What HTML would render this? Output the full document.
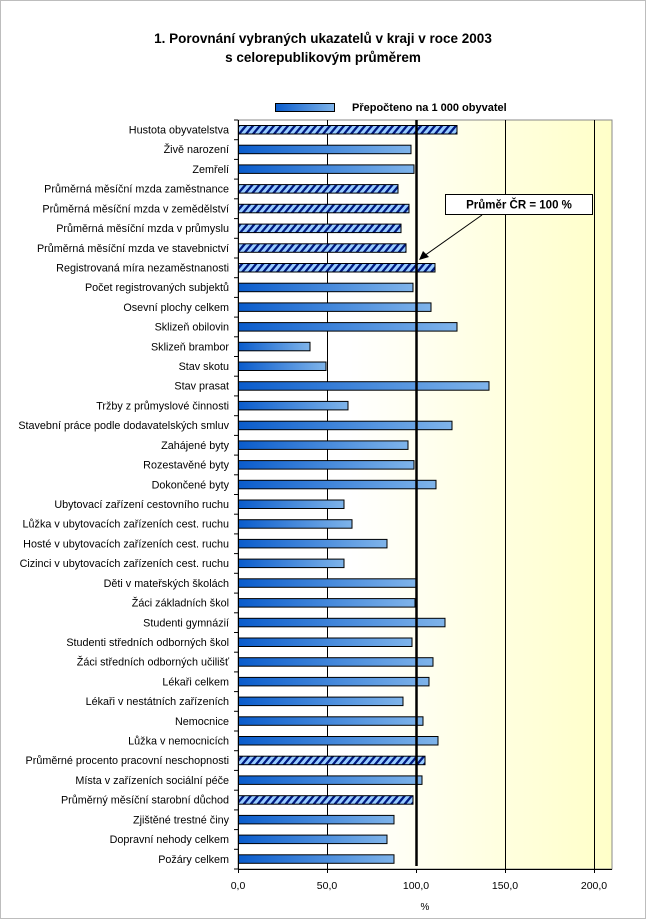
<!DOCTYPE html>
<html><head><meta charset="utf-8"><style>
html,body{margin:0;padding:0;background:#fff}
svg{display:block;font-family:"Liberation Sans",Arial,sans-serif}
</style></head><body>
<svg width="646" height="919" viewBox="0 0 646 919" xmlns="http://www.w3.org/2000/svg">
<defs>
<linearGradient id="bg" x1="0" x2="1" y1="0" y2="0">
<stop offset="0" stop-color="#ffffff"/><stop offset="0.3" stop-color="#ffffff"/><stop offset="1" stop-color="#ffffc8"/>
</linearGradient>
<linearGradient id="bar" x1="0" x2="1" y1="0" y2="0">
<stop offset="0" stop-color="#0a5ccc"/><stop offset="1" stop-color="#7fb4ea"/>
</linearGradient>
<pattern id="hatch" width="7" height="7" patternUnits="userSpaceOnUse" patternTransform="skewX(-40)">
<rect width="7" height="7" fill="#99ccff"/><rect x="0" width="3" height="7" fill="#001a80"/>
</pattern>
</defs>
<rect x="0.5" y="0.5" width="645" height="918" fill="#fff" stroke="#bdbdbd"/>
<text x="323" y="43" text-anchor="middle" font-size="13.5" font-weight="bold">1. Porovnání vybraných ukazatelů v kraji  v roce 2003</text>
<text x="323" y="62" text-anchor="middle" font-size="13.5" font-weight="bold">s celorepublikovým průměrem</text>
<rect x="275.5" y="103.5" width="59" height="8" fill="url(#bar)" stroke="#000"/>
<text x="352" y="111" font-size="11" font-weight="bold">Přepočteno na 1 000 obyvatel</text>
<rect x="238" y="120" width="374" height="749" fill="url(#bg)" stroke="#888"/>
<g stroke="#000" stroke-width="1">
<line x1="327.5" y1="120" x2="327.5" y2="869"/>
<line x1="505.5" y1="120" x2="505.5" y2="869"/>
<line x1="594.5" y1="120" x2="594.5" y2="869"/>
</g>
<g id="bars" stroke="#000" stroke-width="1"></g>
<line x1="416.5" y1="120" x2="416.5" y2="866" stroke="#000" stroke-width="2.5"/>
<line x1="238.5" y1="120" x2="238.5" y2="869" stroke="#000"/>
<line x1="238" y1="869.5" x2="612" y2="869.5" stroke="#000"/>
<g id="ticks" stroke="#000"></g>
<g id="labels" font-size="10.8" text-anchor="end"></g>
<g font-size="10.5" text-anchor="middle">
<text x="238" y="889">0,0</text><text x="327" y="889">50,0</text><text x="416" y="889">100,0</text><text x="505" y="889">150,0</text><text x="594" y="889">200,0</text>
<text x="425" y="910" font-size="10">%</text>
</g>
<rect x="445.5" y="194.5" width="147" height="20" fill="#fff" stroke="#000"/>
<text x="519" y="208.5" text-anchor="middle" font-size="11.5" font-weight="bold">Průměr  ČR = 100 %</text>
<line x1="482" y1="215" x2="424" y2="256" stroke="#000"/>
<polygon points="419,260 423,251 429,257" fill="#000"/>
</svg>
<script>
var d=[["Hustota obyvatelstva",457,1],["Živě narození",411],["Zemřelí",414],["Průměrná měsíční mzda zaměstnance",398,1],["Průměrná měsíční mzda v zemědělství",409,1],["Průměrná měsíční mzda v průmyslu",401,1],["Průměrná měsíční mzda ve stavebnictví",406,1],["Registrovaná míra nezaměstnanosti",435,1],["Počet registrovaných subjektů",413],["Osevní plochy celkem",431],["Sklizeň obilovin",457],["Sklizeň brambor",310],["Stav skotu",326],["Stav prasat",489],["Tržby z průmyslové činnosti",348],["Stavební práce podle dodavatelských smluv",452],["Zahájené byty",408],["Rozestavěné byty",414],["Dokončené byty",436],["Ubytovací zařízení cestovního ruchu",344],["Lůžka v ubytovacích zařízeních cest. ruchu",352],["Hosté v ubytovacích zařízeních cest. ruchu",387],["Cizinci v ubytovacích zařízeních cest. ruchu",344],["Děti v mateřských školách",416],["Žáci základních škol",415],["Studenti gymnázií",445],["Studenti středních odborných škol",412],["Žáci středních odborných učilišť",433],["Lékaři celkem",429],["Lékaři v nestátních zařízeních",403],["Nemocnice",423],["Lůžka  v nemocnicích",438],["Průměrné procento pracovní neschopnosti",425,1],["Místa v zařízeních sociální péče",422],["Průměrný měsíční starobní důchod",413,1],["Zjištěné trestné činy",394],["Dopravní nehody celkem",387],["Požáry celkem",394]];
var ns="http://www.w3.org/2000/svg",B=document.getElementById("bars"),L=document.getElementById("labels"),T=document.getElementById("ticks");
function el(t,a,p){var e=document.createElementNS(ns,t);for(var k in a)e.setAttribute(k,a[k]);p.appendChild(e);return e;}
var h=749/38;
for(var i=0;i<38;i++){var c=129.5+i*h;
el("rect",{x:238.5,y:(c-4).toFixed(1),width:d[i][1]-238.5,height:8.5,fill:d[i][2]?"url(#hatch)":"url(#bar)"},B);
var t=el("text",{x:229,y:(c+4).toFixed(1)},L);t.textContent=d[i][0];}
for(var i=0;i<=38;i++){var y=(120+i*h).toFixed(1);el("line",{x1:234,y1:y,x2:238,y2:y},T);}
[238.5,327.5,416.5,505.5,594.5].forEach(function(x){el("line",{x1:x,y1:869,x2:x,y2:873},T);});
</script>
</body></html>
